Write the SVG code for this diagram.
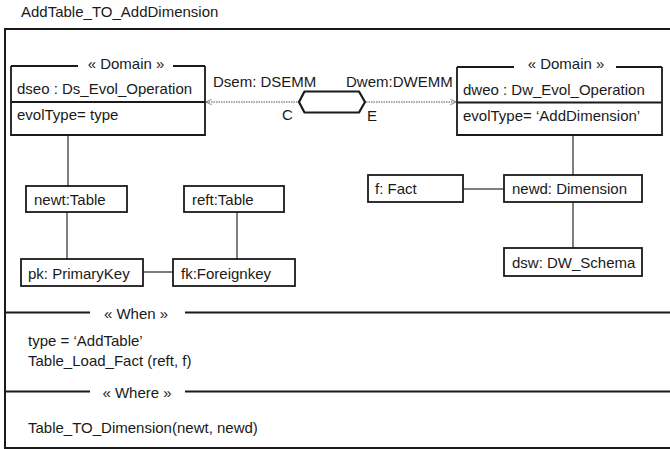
<svg xmlns="http://www.w3.org/2000/svg" width="670" height="449" viewBox="0 0 670 449">
<defs>
<style>
text{font-family:"Liberation Sans",Arial,sans-serif;font-size:15px;fill:#1a1a1a}
.box{fill:#fff;stroke:#1a1a1a;stroke-width:1.8}
.frame{fill:none;stroke:#1a1a1a;stroke-width:2}
.link{stroke:#555;stroke-width:1.5;fill:none}
.dot{stroke:#8a8a8a;stroke-width:1.5;stroke-dasharray:1.5 1;fill:none}
.mid{text-anchor:middle}
</style>
<marker id="arr" viewBox="0 0 10 10" refX="9" refY="5" markerWidth="7" markerHeight="7" markerUnits="userSpaceOnUse" orient="auto-start-reverse">
<path d="M1,1 L9,5 L1,9" fill="none" stroke="#777" stroke-width="1.3"/>
</marker>
</defs>
<rect width="670" height="449" fill="#fff"/>
<text x="21" y="17">AddTable_TO_AddDimension</text>
<g id="frame">
<path class="frame" d="M680,29 H5 V448 H680"/>
<path class="frame" d="M5,312.5 H90 M185,312.5 H672"/>
<path class="frame" d="M5,391.5 H90 M185,391.5 H672"/>
<text x="136" y="319" class="mid">« When »</text>
<text x="137" y="398" class="mid">« Where »</text>
<text x="28" y="346">type  = ‘AddTable’</text>
<text x="28" y="366">Table_Load_Fact (reft, f)</text>
<text x="28" y="433">Table_TO_Dimension(newt, newd)</text>
</g>
<g id="connectors">
<line class="dot" x1="206" y1="102" x2="456" y2="102" marker-start="url(#arr)" marker-end="url(#arr)"/>
<line class="link" x1="68" y1="135" x2="68" y2="186"/>
<line class="link" x1="67" y1="212" x2="67" y2="259"/>
<line class="link" x1="237" y1="212" x2="237" y2="259"/>
<line class="link" x1="143" y1="272" x2="173" y2="272"/>
<line class="link" x1="573" y1="135" x2="573" y2="175"/>
<line class="link" x1="463" y1="189" x2="504" y2="189"/>
<line class="link" x1="573" y1="202" x2="573" y2="248"/>
</g>
<g id="hex">
<polygon points="299,102 304.5,91.5 359,91.5 365,102 359,112.5 304.5,112.5" fill="#fff" stroke="#1a1a1a" stroke-width="2.2" stroke-linejoin="round"/>
<text x="213" y="87">Dsem: DSEMM</text>
<text x="346" y="87">Dwem:DWEMM</text>
<text x="282" y="120">C</text>
<text x="367" y="121">E</text>
</g>
<g id="dseo">
<path class="box" d="M11,66 V135 H205 V66"/>
<path class="frame" style="stroke-width:1.8" d="M11,66 H78 M173,66 H205 M11,102 H205"/>
<text x="126" y="69" class="mid">« Domain »</text>
<text x="17" y="94">dseo : Ds_Evol_Operation</text>
<text x="17" y="120">evolType= type</text>
</g>
<g id="dweo">
<path class="box" d="M457,67 V135 H662 V67"/>
<path class="frame" style="stroke-width:1.8" d="M457,67 H514 M616,67 H662 M457,102.5 H662"/>
<text x="566" y="69" class="mid">« Domain »</text>
<text x="463" y="95">dweo : Dw_Evol_Operation</text>
<text x="463" y="121">evolType= ‘AddDimension’</text>
</g>
<g id="newt"><rect class="box" x="26" y="186" width="101" height="26"/><text x="34" y="205">newt:Table</text></g>
<g id="reft"><rect class="box" x="184" y="186" width="100" height="26"/><text x="192" y="205">reft:Table</text></g>
<g id="pk"><rect class="box" x="21" y="259" width="122" height="27"/><text x="28" y="279">pk: PrimaryKey</text></g>
<g id="fk"><rect class="box" x="173" y="259" width="122" height="27"/><text x="181" y="279">fk:Foreignkey</text></g>
<g id="f"><rect class="box" x="368" y="175" width="95" height="27"/><text x="375" y="194">f: Fact</text></g>
<g id="newd"><rect class="box" x="504" y="175" width="138" height="27"/><text x="512" y="194">newd: Dimension</text></g>
<g id="dsw"><rect class="box" x="504" y="248" width="138" height="28"/><text x="512" y="268">dsw: DW_Schema</text></g>
</svg>
